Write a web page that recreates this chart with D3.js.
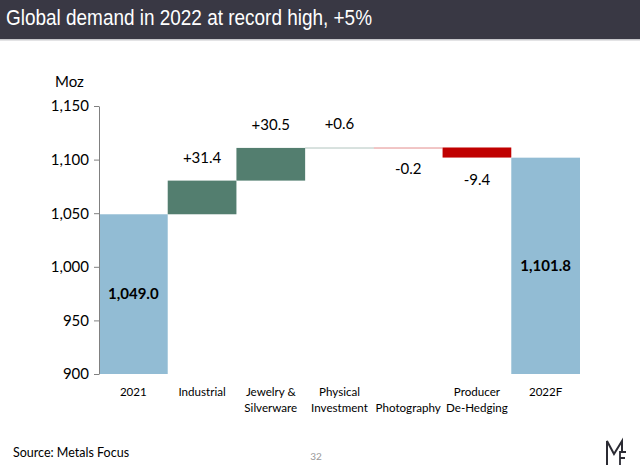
<!DOCTYPE html>
<html><head><meta charset="utf-8">
<script src="https://cdn.jsdelivr.net/npm/d3@7"></script>
<style>body{margin:0;background:#fff}svg{display:block}</style>
</head><body>
<svg id="c" width="640" height="473"></svg>
<script>
const title = "Global demand in 2022 at record high, +5%";
const categories = ["2021","Industrial","Jewelry &\nSilverware","Physical\nInvestment","Photography","Producer\nDe-Hedging","2022F"];
const values = [1049.0, 31.4, 30.5, 0.6, -0.2, -9.4, 1101.8];
const kinds = ["total","delta","delta","delta","delta","delta","total"];
const valueLabels = ["1,049.0","+31.4","+30.5","+0.6","-0.2","-9.4","1,101.8"];
const yTicks = [900,950,1000,1050,1100,1150];
const unit = "Moz";
const source = "Source: Metals Focus";
const pageNum = "32";

const svg = d3.select("#c");
const font = "'Lato','Open Sans',sans-serif";

// title bar
svg.append("rect").attr("x",0).attr("y",0).attr("width",640).attr("height",39).attr("fill","#393844");
svg.append("rect").attr("x",0).attr("y",39).attr("width",640).attr("height",1.5).attr("fill","#c8c8cc");
svg.append("text").attr("x",6).attr("y",25).attr("fill","#fff")
  .attr("font-family","'Liberation Sans Narrow','Liberation Sans',Arial,sans-serif").attr("font-size",22)
  .attr("textLength",366).attr("lengthAdjust","spacingAndGlyphs").text(title);

const x = d3.scaleBand().domain(categories).range([99,580]).padding(0);
const y = d3.scaleLinear().domain([900,1150]).range([374,106]);

// compute waterfall
let run = 0;
const bars = values.map((v,i)=>{
  let y0,y1;
  if(kinds[i]==="total"){ y0=900; y1=v; run=v; }
  else { y0=run; y1=run+v; run=y1; }
  return {cat:categories[i], lo:Math.min(y0,y1), hi:Math.max(y0,y1), v, kind:kinds[i], label:valueLabels[i]};
});
const color = d=> d.kind==="total" ? "#92bcd4" : (d.v>=0 ? "#537e6f" : "#c00000");

svg.append("g").selectAll("rect").data(bars).join("rect")
  .attr("x",d=>x(d.cat)).attr("width",x.bandwidth())
  .attr("y",d=>y(d.hi)).attr("height",d=>Math.max(y(d.lo)-y(d.hi),1.5))
  .attr("fill",color)
  .attr("fill-opacity",d=>{const h=y(d.lo)-y(d.hi); return h>=2?1:0.3;});

// axis
const ax = svg.append("g").attr("transform","translate(99,0)")
  .call(d3.axisLeft(y).tickValues(yTicks).tickFormat(d3.format(",")).tickSize(5).tickSizeOuter(0));
ax.select(".domain").attr("stroke","#808080");
ax.selectAll(".tick line").attr("stroke","#808080");
ax.selectAll(".tick text").attr("font-family",font).attr("font-size",15).attr("fill","#000").attr("x",-10);
svg.append("text").attr("x",55).attr("y",87).attr("font-family",font).attr("font-size",15).attr("fill","#000").text(unit);

// value labels
svg.append("g").selectAll("text").data(bars).join("text")
  .attr("x",d=>x(d.cat)+x.bandwidth()/2)
  .attr("y",d=>{
    if(d.kind==="total") return (y(d.hi)+y(900))/2 + 5;
    if(d.v>=0) return y(d.hi) - 18;
    return y(d.lo) + 27;
  })
  .attr("text-anchor","middle").attr("font-family",font).attr("font-size",15)
  .attr("font-weight",d=>d.kind==="total"?"bold":"normal").attr("fill","#000")
  .text(d=>d.label);

// category labels
const cl = svg.append("g").selectAll("text").data(categories).join("text")
  .attr("x",d=>x(d)+x.bandwidth()/2).attr("y",396)
  .attr("text-anchor","middle").attr("font-family",font).attr("font-size",11.6).attr("fill","#000");
cl.each(function(d){
  const parts=d.split("\n");
  d3.select(this).selectAll("tspan").data(parts).join("tspan")
    .attr("x",x(d)+x.bandwidth()/2).attr("dy",(p,i)=>i===0?0:16)
    .text(p=>p);
});
cl.filter(d=>d==="Photography").attr("y",412).selectAll("tspan").attr("y",412);

// footer
svg.append("text").attr("x",13).attr("y",457).attr("font-family",font).attr("font-size",12.5).attr("fill","#000").text(source);
svg.append("text").attr("x",316).attr("y",460).attr("text-anchor","middle").attr("font-family",font).attr("font-size",10).attr("fill","#999").text(pageNum);

// logo
const lg = svg.append("g").attr("fill","none").attr("stroke","#2b2b33").attr("stroke-width",2);
lg.append("path").attr("d","M607,465 L607,441 L614,454 L622,441 L622,452");
lg.append("path").attr("d","M620,465 L620,452 L626,452 M620,458 L625,458").attr("stroke-width",1.8);
</script>
</body></html>
